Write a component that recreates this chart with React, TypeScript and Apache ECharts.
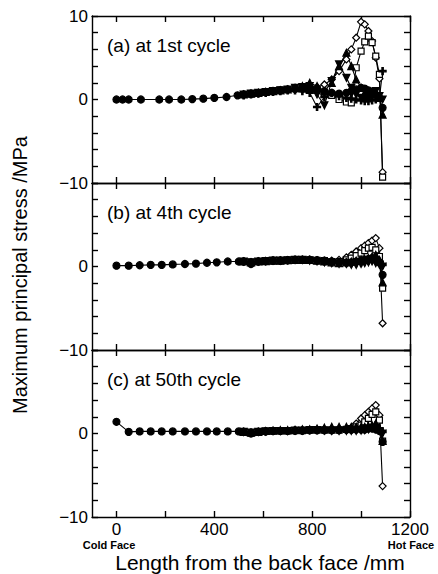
import React, { useEffect, useRef } from "react";
import * as echarts from "echarts";

// ---------- data (x in mm, stress in MPa) ----------
const xLeftA = [0, 25, 50, 100, 175, 215, 265, 310, 355, 400, 450, 495];
const xLeftBC = [0, 50, 95, 140, 185, 230, 280, 325, 370, 410, 455, 500];
const xRight = [520, 550, 580, 610, 640, 670, 700, 730, 760, 790, 820, 850, 880, 910, 940, 960, 980, 1000, 1015, 1030, 1045, 1060, 1075, 1088];

// (a) 1st cycle
const aCircleLeft = [0, 0, 0, 0, 0, 0, 0, 0.05, 0.1, 0.2, 0.3, 0.5];
const aCircle = [0.6, 0.7, 0.8, 0.9, 1.0, 1.1, 1.2, 1.25, 1.3, 1.3, 1.2, 1.0, 0.8, 0.7, 0.8, 1.0, 1.2, 1.4, 1.3, 1.1, 0.9, 0.6, 0.2, -1.0];
const aDiamond = [0.6, 0.7, 0.8, 0.9, 1.0, 1.1, 1.2, 1.3, 1.35, 1.4, 1.5, 1.8, 2.4, 3.4, 4.8, 6.0, 7.4, 9.3, 9.0, 8.2, 7.0, 5.0, 2.5, -8.7];
const aSquare = [0.6, 0.7, 0.8, 0.9, 1.0, 1.1, 1.2, 1.3, 1.3, 1.3, 1.1, 0.8, 0.5, 0.0, -0.3, -0.4, 3.8, 5.8, 6.9, 7.6, 6.8, 5.2, 3.0, -9.3];
const aTriangle = [0.6, 0.7, 0.8, 0.9, 1.0, 1.1, 1.2, 1.4, 1.6, 2.0, 1.6, 1.0, 2.0, 4.0, 5.6, 4.0, 2.4, 1.4, 0.8, 0.5, 0.6, 0.8, 0.2, -1.8];
const aInvTri = [0.6, 0.7, 0.8, 0.9, 1.0, 1.1, 1.2, 1.4, 1.5, 1.6, 0.6, -0.7, 2.2, 4.2, 2.6, 1.4, 0.6, 0.2, 0.0, 0.2, 0.6, 1.0, 0.4, 0.0];
const aPlus = [0.5, 0.6, 0.7, 0.8, 0.9, 1.0, 1.1, 1.1, 1.0, 0.8, -0.9, 0.3, 0.8, 0.4, 0.2, 0.1, 0.0, -0.1, -0.2, -0.2, -0.1, 0.0, 0.2, 3.4];

// (b) 4th cycle
const bCircleLeft = [0.1, 0.1, 0.15, 0.2, 0.2, 0.25, 0.3, 0.35, 0.45, 0.5, 0.6, 0.6];
const bCircle = [0.6, 0.3, 0.6, 0.65, 0.7, 0.7, 0.75, 0.8, 0.8, 0.8, 0.75, 0.7, 0.6, 0.5, 0.5, 0.5, 0.6, 0.7, 0.8, 0.9, 1.0, 0.9, 0.5, -1.0];
const bDiamond = [0.6, 0.5, 0.6, 0.65, 0.7, 0.7, 0.75, 0.8, 0.8, 0.8, 0.75, 0.7, 0.7, 0.8, 1.1, 1.4, 1.8, 2.2, 2.5, 2.8, 3.1, 3.4, 2.2, -6.8];
const bSquare = [0.6, 0.5, 0.6, 0.65, 0.7, 0.7, 0.75, 0.8, 0.8, 0.8, 0.75, 0.7, 0.6, 0.6, 0.8, 1.0, 1.3, 1.6, 1.9, 2.2, 2.3, 2.0, 1.2, -2.6];
const bTriangle = [0.6, 0.5, 0.6, 0.65, 0.7, 0.7, 0.75, 0.8, 0.8, 0.8, 0.7, 0.6, 0.5, 0.4, 0.5, 0.6, 0.7, 0.8, 0.9, 1.0, 1.2, 1.4, 0.8, -1.9];
const bInvTri = [0.6, 0.5, 0.6, 0.65, 0.7, 0.7, 0.75, 0.8, 0.8, 0.7, 0.6, 0.5, 0.4, 0.3, 0.3, 0.2, 0.2, 0.3, 0.4, 0.5, 0.6, 0.4, 0.2, 0.0];
const bPlus = [0.6, 0.5, 0.6, 0.65, 0.7, 0.7, 0.75, 0.8, 0.8, 0.8, 0.7, 0.6, 0.5, 0.5, 0.4, 0.4, 0.4, 0.5, 0.6, 0.7, 0.8, 0.9, 0.6, 0.2];

// (c) 50th cycle
const cCircleLeft = [1.4, 0.2, 0.25, 0.25, 0.25, 0.25, 0.25, 0.25, 0.25, 0.25, 0.25, 0.25];
const cCircle = [0.2, 0.0, 0.2, 0.25, 0.3, 0.3, 0.3, 0.35, 0.35, 0.4, 0.4, 0.4, 0.4, 0.4, 0.45, 0.45, 0.5, 0.5, 0.5, 0.6, 0.6, 0.5, 0.3, -1.0];
const cDiamond = [0.2, 0.1, 0.2, 0.25, 0.3, 0.3, 0.3, 0.35, 0.35, 0.4, 0.4, 0.4, 0.4, 0.4, 0.5, 0.7, 1.2, 1.8, 2.2, 2.6, 3.0, 3.4, 2.2, -6.3];
const cSquare = [0.2, 0.1, 0.2, 0.25, 0.3, 0.3, 0.3, 0.35, 0.35, 0.4, 0.4, 0.4, 0.4, 0.4, 0.5, 0.6, 0.8, 1.0, 1.4, 1.8, 2.3, 2.6, 1.6, -0.9];
const cTriangle = [0.2, 0.1, 0.2, 0.3, 0.35, 0.4, 0.4, 0.45, 0.5, 0.5, 0.6, 0.7, 0.8, 0.8, 0.8, 0.8, 0.8, 0.8, 0.8, 0.9, 1.0, 1.2, 0.6, -0.9];
const cInvTri = [0.2, 0.1, 0.2, 0.25, 0.3, 0.3, 0.3, 0.35, 0.35, 0.4, 0.4, 0.35, 0.3, 0.3, 0.3, 0.3, 0.3, 0.35, 0.4, 0.5, 0.6, 0.5, 0.3, 0.0];
const cPlus = [0.2, 0.1, 0.2, 0.25, 0.3, 0.3, 0.3, 0.35, 0.35, 0.4, 0.4, 0.4, 0.4, 0.45, 0.5, 0.5, 0.5, 0.5, 0.5, 0.6, 0.8, 1.0, 0.6, 0.2];

const panelLabels = ["(a) at 1st cycle", "(b) at 4th cycle", "(c) at 50th cycle"];
const xLabelValues = [0, 400, 800, 1200];
const xTickValues = [0, 200, 400, 600, 800, 1000, 1200];

// ---------- helpers ----------
const FONT = "Liberation Sans";
const PLUS = "path://M4,0H6V4H10V6H6V10H4V6H0V4H4Z";

function pairs(xs: number[], ys: number[]) {
  return xs.map((x, i) => [x, ys[i]]);
}

type Mk = { symbol: string; size: number; fill: string; rotate?: number };
const MK: Record<string, Mk> = {
  circle: { symbol: "circle", size: 7, fill: "#000" },
  diamond: { symbol: "diamond", size: 7, fill: "#fff" },
  square: { symbol: "rect", size: 6, fill: "#fff" },
  triangle: { symbol: "triangle", size: 7, fill: "#000" },
  invtri: { symbol: "triangle", size: 7, fill: "#000", rotate: 180 },
  plus: { symbol: PLUS, size: 7, fill: "#000" },
};

function line(g: number, kind: string, data: number[][]) {
  const m = MK[kind];
  return {
    type: "line",
    xAxisIndex: 2 * g,
    yAxisIndex: 2 * g,
    data,
    symbol: m.symbol,
    symbolSize: m.size,
    symbolRotate: m.rotate || 0,
    showAllSymbol: true,
    lineStyle: { color: "#000", width: 1.1 },
    itemStyle: { color: m.fill, borderColor: "#000", borderWidth: 1.2 },
    z: 3,
  };
}

const GRID_TOP = [16, 183, 350];
const GRID_H = 167;

export default function App() {
  const ref = useRef<HTMLDivElement>(null);

  useEffect(() => {
    if (!ref.current) return;
    const chart = echarts.init(ref.current, undefined, { renderer: "svg" });

    const grids = GRID_TOP.map((t) => ({ left: 92, top: t, width: 318, height: GRID_H }));

    const axisLine = { show: true, onZero: false, lineStyle: { color: "#000", width: 1.4 } };
    const xAxes: any[] = [];
    const yAxes: any[] = [];
    GRID_TOP.forEach((_, g) => {
      const isLast = g === 2;
      const common = {
        type: "value",
        gridIndex: g,
        min: -100,
        max: 1200,
        splitLine: { show: false },
        axisLine,
        axisTick: { show: true, inside: true, length: 6, customValues: xTickValues, lineStyle: { color: "#000", width: 1.4 } },
      };
      xAxes.push({
        ...common,
        position: "bottom",
        axisLabel: isLast
          ? {
              show: true,
              customValues: xLabelValues,
              color: "#000",
              fontSize: 17,
              fontFamily: FONT,
              margin: 4,
              formatter: (v: number) => String(v),
            }
          : { show: false },
      });
      xAxes.push({ ...common, position: "top", axisLabel: { show: false } });

      const ycommon = {
        type: "value",
        gridIndex: g,
        min: -10,
        max: 10,
        interval: 2,
        splitLine: { show: false },
        axisLine,
        axisTick: { show: true, inside: true, length: 6, lineStyle: { color: "#000", width: 1.4 } },
      };
      yAxes.push({
        ...ycommon,
        position: "left",
        axisLabel: {
          show: true,
          color: "#000",
          fontSize: 17,
          fontFamily: FONT,
          margin: 4,
          formatter: (v: number) => {
            if (v === 0) return "0";
            if (v === -10) return "\u221210";
            if (v === 10 && g === 0) return "10";
            return "";
          },
        },
      });
      yAxes.push({ ...ycommon, position: "right", axisLabel: { show: false } });
    });

    const series: any[] = [
      // (a)
      line(0, "diamond", pairs(xRight, aDiamond)),
      line(0, "square", pairs(xRight, aSquare)),
      line(0, "triangle", pairs(xRight, aTriangle)),
      line(0, "invtri", pairs(xRight, aInvTri)),
      line(0, "plus", pairs(xRight, aPlus)),
      line(0, "circle", pairs(xLeftA.concat(xRight), aCircleLeft.concat(aCircle))),
      // (b)
      line(1, "diamond", pairs(xRight, bDiamond)),
      line(1, "square", pairs(xRight, bSquare)),
      line(1, "triangle", pairs(xRight, bTriangle)),
      line(1, "invtri", pairs(xRight, bInvTri)),
      line(1, "plus", pairs(xRight, bPlus)),
      line(1, "circle", pairs(xLeftBC.concat(xRight), bCircleLeft.concat(bCircle))),
      // (c)
      line(2, "diamond", pairs(xRight, cDiamond)),
      line(2, "square", pairs(xRight, cSquare)),
      line(2, "triangle", pairs(xRight, cTriangle)),
      line(2, "invtri", pairs(xRight, cInvTri)),
      line(2, "plus", pairs(xRight, cPlus)),
      line(2, "circle", pairs(xLeftBC.concat(xRight), cCircleLeft.concat(cCircle))),
    ];

    const graphic: any[] = [
      ...panelLabels.map((t, i) => ({
        type: "text",
        left: 107,
        top: GRID_TOP[i] + 20,
        style: { text: t, fill: "#000", font: `19px '${FONT}'` },
      })),
      {
        type: "text",
        x: 20,
        y: 275,
        rotation: Math.PI / 2,
        style: { text: "Maximum principal stress /MPa", fill: "#000", font: `20px '${FONT}'`, align: "center", verticalAlign: "middle" },
      },
      {
        type: "text",
        x: 260,
        y: 562,
        style: { text: "Length from the back face /mm", fill: "#000", font: `21px '${FONT}'`, align: "center", verticalAlign: "middle" },
      },
      {
        type: "text",
        x: 109,
        y: 545,
        style: { text: "Cold Face", fill: "#000", font: `bold 11px '${FONT}'`, align: "center", verticalAlign: "middle" },
      },
      {
        type: "text",
        x: 411,
        y: 545,
        style: { text: "Hot Face", fill: "#000", font: `bold 11px '${FONT}'`, align: "center", verticalAlign: "middle" },
      },
    ];

    chart.setOption({
      animation: false,
      backgroundColor: "#fff",
      grid: grids,
      xAxis: xAxes,
      yAxis: yAxes,
      series,
      graphic,
    });

    return () => chart.dispose();
  }, []);

  return (
    <div
      ref={ref}
      style={{ position: "fixed", left: 0, top: 0, width: 438, height: 574, background: "#fff" }}
    />
  );
}
